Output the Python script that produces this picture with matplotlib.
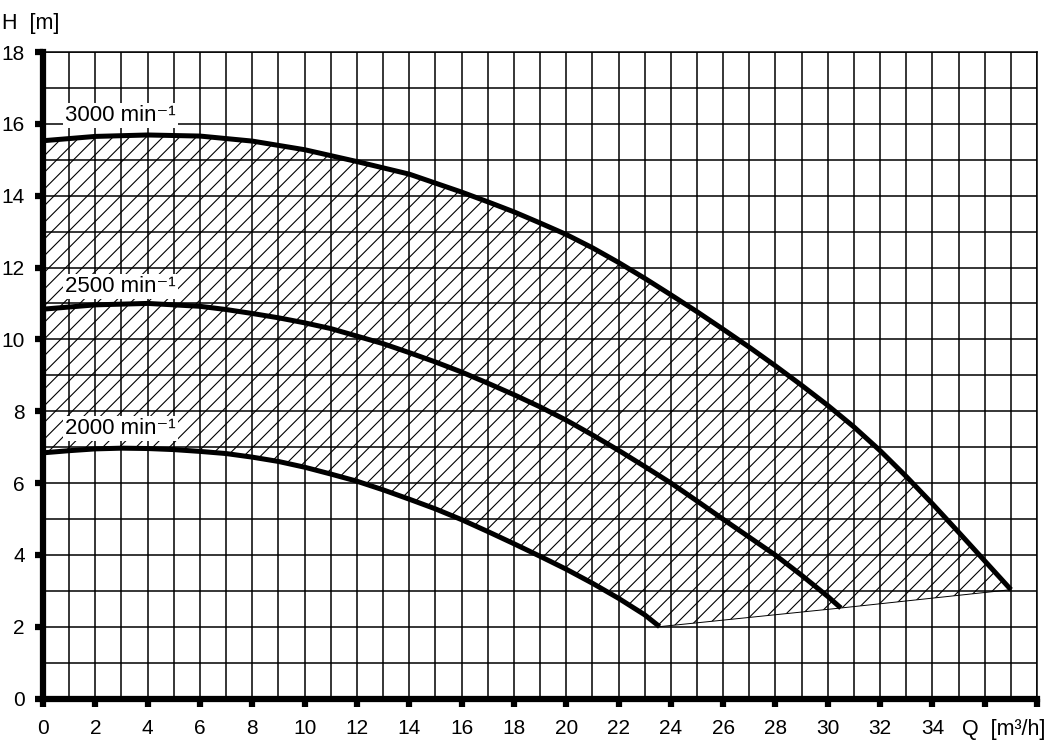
import matplotlib
matplotlib.use("Agg")
import matplotlib.pyplot as plt
import numpy as np

plt.rcParams['font.family'] = ['Liberation Sans', 'DejaVu Sans']
plt.rcParams['hatch.linewidth'] = 0.8

# Flow Q [m3/h] and head H [m]
q_3000 = [0, 2, 4, 6, 8, 10, 12, 14, 16, 17, 18, 19, 20, 21, 22, 23, 24, 25, 26, 27, 28,
          29, 30, 31, 32, 33, 34, 35, 36, 37.0]
h_3000 = [15.53, 15.65, 15.69, 15.66, 15.52, 15.28, 14.95, 14.6, 14.1, 13.83, 13.55, 13.24,
          12.92, 12.55, 12.14, 11.7, 11.24, 10.77, 10.28, 9.78, 9.26, 8.72, 8.16, 7.56,
          6.9, 6.18, 5.42, 4.63, 3.83, 3.03]

q_2500 = [0, 2, 4, 6, 7, 8, 9, 10, 11, 12, 13, 14, 15, 16, 17, 18, 19, 20, 21, 22, 23,
          24, 25, 26, 27, 28, 29, 30, 30.5]
h_2500 = [10.84, 10.96, 11.0, 10.92, 10.83, 10.72, 10.6, 10.46, 10.3, 10.09, 9.88, 9.63,
          9.37, 9.09, 8.78, 8.46, 8.12, 7.75, 7.34, 6.91, 6.46, 6.0, 5.5, 4.99, 4.49, 3.99,
          3.43, 2.84, 2.52]

q_2000 = [0, 1, 2, 3, 4, 5, 6, 7, 8, 9, 10, 11, 12, 13, 14, 15, 16, 17, 18, 19, 20, 21,
          22, 23, 23.57]
h_2000 = [6.84, 6.9, 6.95, 6.97, 6.96, 6.93, 6.88, 6.82, 6.72, 6.6, 6.44, 6.25, 6.05,
          5.81, 5.55, 5.28, 4.98, 4.65, 4.31, 3.96, 3.6, 3.21, 2.79, 2.33, 2.0]

# lower limit line joining the curve ends
q_limit = [23.57, 30.5, 37.0]
h_limit = [2.0, 2.52, 3.03]

curve_labels = ["3000 min\u207b\u00b9", "2500 min\u207b\u00b9", "2000 min\u207b\u00b9"]
label_pos_q = [0.84, 0.84, 0.84]
label_pos_h = [16.22, 11.48, 7.53]

x_ticks = list(range(0, 39, 2))
x_ticklabels = [str(v) for v in range(0, 35, 2)] + ["", ""]
y_ticks = list(range(0, 19, 2))

fig = plt.figure(figsize=(10.58, 7.46), dpi=100)
ax = fig.add_axes([0.04064, 0.06367, 0.9396, 0.8666])

ax.set_xlim(0, 38)
ax.set_ylim(0, 18)

# hatched operating area
poly_q = list(q_3000) + list(reversed(q_limit)) + list(reversed(q_2000))
poly_h = list(h_3000) + list(reversed(h_limit)) + list(reversed(h_2000))
ax.fill(poly_q, poly_h, facecolor='none', edgecolor='black', hatch='//', linewidth=0, zorder=1)
ax.plot(q_limit, h_limit, color='black', linewidth=0.7, zorder=2)

for q, h in [(q_3000, h_3000), (q_2500, h_2500), (q_2000, h_2000)]:
    ax.plot(q, h, color='black', linewidth=3.6, solid_capstyle='butt',
            solid_joinstyle='round', zorder=3)

for lab, lq, lh in zip(curve_labels, label_pos_q, label_pos_h):
    ax.text(lq, lh, lab, fontsize=16, ha='left', va='center', zorder=4,
            bbox=dict(facecolor='white', edgecolor='none', pad=1.5))

ax.set_xticks(x_ticks)
ax.set_xticklabels(x_ticklabels)
ax.set_yticks(y_ticks)
ax.set_xticks(np.arange(0, 39, 1), minor=True)
ax.set_yticks(np.arange(0, 19, 1), minor=True)
ax.grid(which='both', color='black', linewidth=1.1)
ax.tick_params(which='major', direction='out', length=6, width=4.5, color='black',
               labelsize=15, pad=7)
ax.tick_params(axis='x', which='major', pad=9)
ax.tick_params(which='minor', length=0)

for side in ['left', 'bottom']:
    ax.spines[side].set_linewidth(4.5)
for side in ['top', 'right']:
    ax.spines[side].set_linewidth(1.1)

fig.text(2 / 1058, 1 - 24 / 746, "H  [m]", fontsize=15.5, ha='left', va='center')
fig.text(962 / 1058, 1 - 729 / 746, "Q  [m\u00b3/h]", fontsize=15.5, ha='left', va='center')

fig.savefig("out.png", dpi=100)
